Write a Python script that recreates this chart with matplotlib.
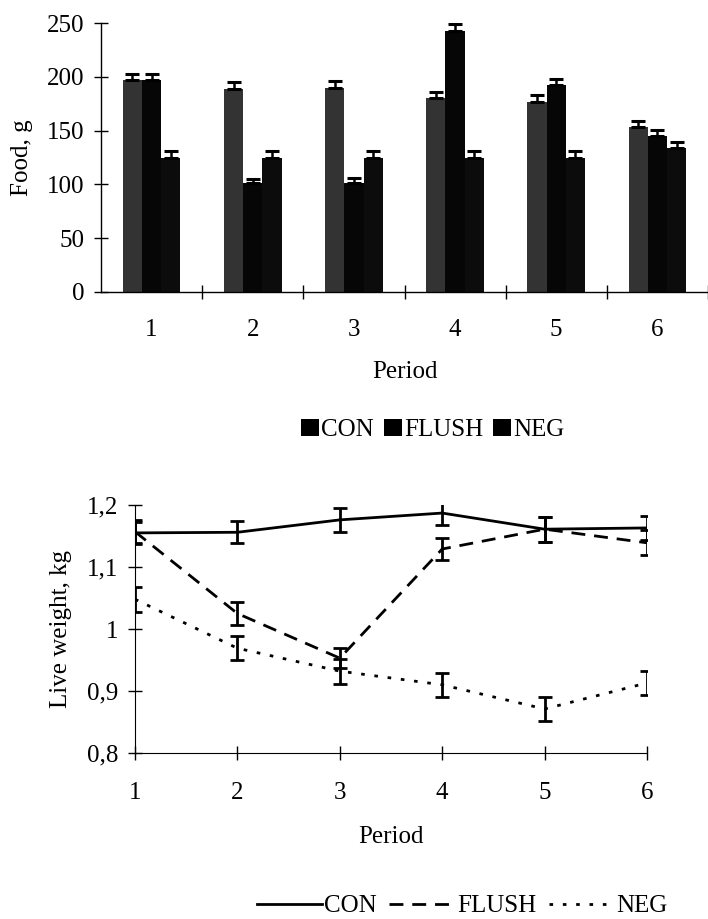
import matplotlib
matplotlib.use("Agg")
import matplotlib.pyplot as plt
import numpy as np
from matplotlib.lines import Line2D
from matplotlib.patches import Patch
from matplotlib.ticker import FuncFormatter

plt.rcParams['font.family'] = ['Liberation Serif', 'DejaVu Serif']

periods = [1, 2, 3, 4, 5, 6]
series = ["CON", "FLUSH", "NEG"]

food_con = [197, 189, 190, 180, 177, 153]
food_flush = [197, 101, 101, 243, 192, 145]
food_neg = [125, 125, 125, 125, 125, 134]
food_err_con = [6, 6, 6, 6, 6, 6]
food_err_flush = [6, 4, 5, 6, 6, 6]
food_err_neg = [6, 6, 6, 6, 6, 5]

lw_con = [1.155, 1.156, 1.176, 1.187, 1.161, 1.163]
lw_flush = [1.157, 1.025, 0.953, 1.129, 1.161, 1.139]
lw_neg = [1.048, 0.969, 0.932, 0.910, 0.871, 0.913]
lw_err_con = [0.018, 0.018, 0.019, 0.019, 0.02, 0.019]
lw_err_flush = [0.018, 0.018, 0.016, 0.018, 0.02, 0.02]
lw_err_neg = [0.02, 0.019, 0.02, 0.019, 0.019, 0.019]

W, H = 708, 919
fig = plt.figure(figsize=(W / 100, H / 100), dpi=100)
FS = 18

# ---------- Top bar chart ----------
ax1 = fig.add_axes([101 / W, 1 - 292 / H, (708 - 101) / W, (292 - 23) / H])
x = np.array(periods, dtype=float)
bw = 0.19
cols = ['#333333', '#060606', '#0c0c0c']
for i, (vals, errs) in enumerate([(food_con, food_err_con), (food_flush, food_err_flush), (food_neg, food_err_neg)]):
    xs = x + (i - 1) * bw
    ax1.bar(xs, vals, width=bw, color=cols[i], edgecolor='none', zorder=2)
    ax1.errorbar(xs, vals, yerr=[np.zeros(len(errs)), errs], fmt='none', ecolor='black',
                 elinewidth=1.8, capsize=5, capthick=2.2, zorder=3)
ax1.set_xlim(0.5, 6.5)
ax1.set_ylim(0, 250)
ax1.set_yticks([0, 50, 100, 150, 200, 250])
ax1.set_xticks([1.5, 2.5, 3.5, 4.5, 5.5, 6.5])
ax1.set_xticklabels([])
ax1.set_xticks(periods, minor=True)
ax1.set_xticklabels([str(p) for p in periods], minor=True)
ax1.tick_params(axis='x', which='minor', length=0, pad=19.5, labelsize=FS)
ax1.tick_params(axis='both', which='major', direction='inout', length=10, width=1, labelsize=FS)
ax1.tick_params(axis='y', pad=7)
for s in ['top', 'right']:
    ax1.spines[s].set_visible(False)
ax1.spines['left'].set_linewidth(1)
ax1.spines['bottom'].set_linewidth(1)
ax1.set_ylabel("Food, g", fontsize=FS, labelpad=10)
ax1.set_xlabel("Period", fontsize=FS, labelpad=14.5)

h1 = [Patch(facecolor='black', edgecolor='none') for _ in series]
fig.legend(h1, series, loc='center', bbox_to_anchor=(433 / W, 1 - 430 / H), ncol=3,
           frameon=False, fontsize=FS, handlelength=0.7, handleheight=0.7,
           handletextpad=0.1, columnspacing=0.4)

# ---------- Bottom line chart ----------
ax2 = fig.add_axes([135 / W, 1 - 753 / H, (647 - 135) / W, (753 - 505) / H])
styles = ['-', (0, (5, 3.2)), (0, (1.3, 3.5))]
for vals, errs, ls in [(lw_con, lw_err_con, styles[0]), (lw_flush, lw_err_flush, styles[1]), (lw_neg, lw_err_neg, styles[2])]:
    ax2.plot(periods, vals, color='black', linestyle=ls, linewidth=2, zorder=2)
    ax2.errorbar(periods, vals, yerr=errs, fmt='none', ecolor='black', elinewidth=2,
                 capsize=5, capthick=2, zorder=3)
ax2.set_xlim(1, 6)
ax2.set_ylim(0.8, 1.2)
ax2.set_xticks(periods)
ax2.set_yticks([0.8, 0.9, 1.0, 1.1, 1.2])
ax2.yaxis.set_major_formatter(FuncFormatter(lambda v, p: ('%g' % round(v, 2)).replace('.', ',')))
ax2.tick_params(axis='both', direction='inout', length=10, width=1, labelsize=FS)
ax2.tick_params(axis='x', pad=16)
ax2.tick_params(axis='y', pad=7)
for s in ['top', 'right']:
    ax2.spines[s].set_visible(False)
ax2.set_ylabel("Live weight, kg", fontsize=FS, labelpad=11)
ax2.set_xlabel("Period", fontsize=FS, labelpad=15.5)

h2 = [Line2D([0], [0], color='black', linestyle=s, linewidth=2) for s in styles]
fig.legend(h2, series, loc='center', bbox_to_anchor=(462 / W, 1 - 906 / H), ncol=3,
           frameon=False, fontsize=FS, handlelength=2.6, handletextpad=0.1, columnspacing=0.5)

fig.savefig("out.png", dpi=100)
